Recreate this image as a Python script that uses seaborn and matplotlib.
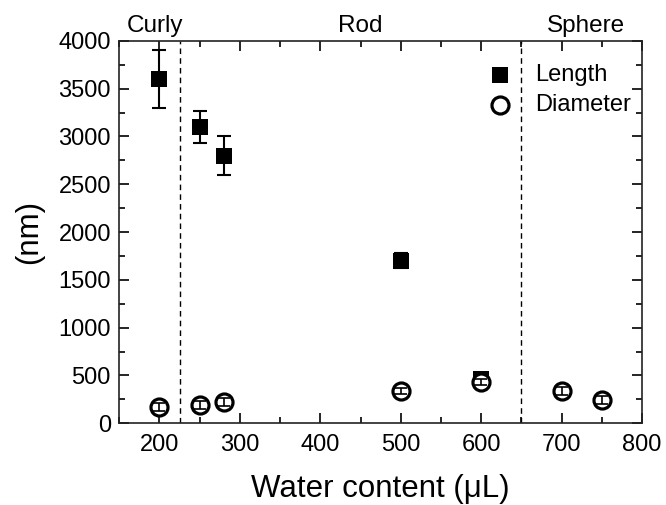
import matplotlib
matplotlib.use("Agg")
import matplotlib.pyplot as plt
import numpy as np
import pandas as pd
import seaborn as sns
from matplotlib.ticker import MultipleLocator

# data
water = [200, 250, 280, 500, 600, 700, 750]
length_x = [200, 250, 280, 500, 600]
length_nm = [3600, 3100, 2800, 1700, 460]
length_err = [300, 170, 200, 80, 40]
diameter_nm = [168, 190, 222, 340, 432, 335, 240]
diameter_err = [40, 45, 45, 30, 30, 40, 40]
regions = ["Curly", "Rod", "Sphere"]
region_label_x = [195, 450, 730]
boundaries = [225, 650]

sns.set_theme(style="ticks")
plt.rcParams["font.family"] = ["Liberation Sans", "DejaVu Sans"]
plt.rcParams["text.color"] = "black"
plt.rcParams["axes.labelcolor"] = "black"

df_len = pd.DataFrame({"water": length_x, "nm": length_nm, "err": length_err})
df_dia = pd.DataFrame({"water": water, "nm": diameter_nm, "err": diameter_err})

fig = plt.figure(figsize=(6.66, 5.05), dpi=100)
ax = fig.add_axes([0.179, 0.162, 0.785, 0.757])

ax.errorbar(df_len.water, df_len.nm, yerr=df_len.err, fmt="none", ecolor="black",
            elinewidth=1.5, capsize=5, capthick=1.5, zorder=2)
sns.scatterplot(data=df_len, x="water", y="nm", marker="s", s=135, color="black",
                edgecolor="black", linewidth=0, label="Length", ax=ax, zorder=3)
sns.scatterplot(data=df_dia, x="water", y="nm", marker="o", s=150, facecolor="white",
                edgecolor="black", linewidth=2.3, label="Diameter", ax=ax, zorder=4)
ax.errorbar(df_dia.water, df_dia.nm, yerr=df_dia.err, fmt="none", ecolor="black",
            elinewidth=1.2, capsize=4, capthick=1.2, zorder=5)

for b in boundaries:
    ax.axvline(b, color="black", linestyle=(0, (4, 3)), linewidth=1, zorder=1)

for name, xpos in zip(regions, region_label_x):
    ax.text(xpos, 1.01, name, transform=ax.get_xaxis_transform(), ha="center",
            va="bottom", fontsize=17.5, color="black")

ax.set_xlim(150, 800)
ax.set_ylim(0, 4000)
ax.xaxis.set_major_locator(MultipleLocator(100))
ax.xaxis.set_minor_locator(MultipleLocator(50))
ax.yaxis.set_major_locator(MultipleLocator(500))
ax.yaxis.set_minor_locator(MultipleLocator(250))
ax.set_xticks(np.arange(200, 801, 100))
ax.tick_params(which="both", direction="in", top=True, right=True, colors="black",
               labelsize=17, width=1.2)
ax.tick_params(which="major", length=7)
ax.tick_params(which="minor", length=4)
ax.tick_params(axis="x", pad=8)
ax.tick_params(axis="y", pad=6)
for sp in ax.spines.values():
    sp.set_visible(True)
    sp.set_color("#222222")
    sp.set_linewidth(1.2)

ax.set_xlabel("Water content (\u03bcL)", fontsize=22.5, labelpad=13)
ax.set_ylabel("(nm)", fontsize=22.5, labelpad=10)

leg = ax.legend(loc="upper right", bbox_to_anchor=(1.02, 0.995), frameon=False,
                fontsize=17, handletextpad=0.5, labelspacing=0.35, markerscale=1.0)
for t in leg.get_texts():
    t.set_color("black")

fig.savefig("out.png", dpi=100)
